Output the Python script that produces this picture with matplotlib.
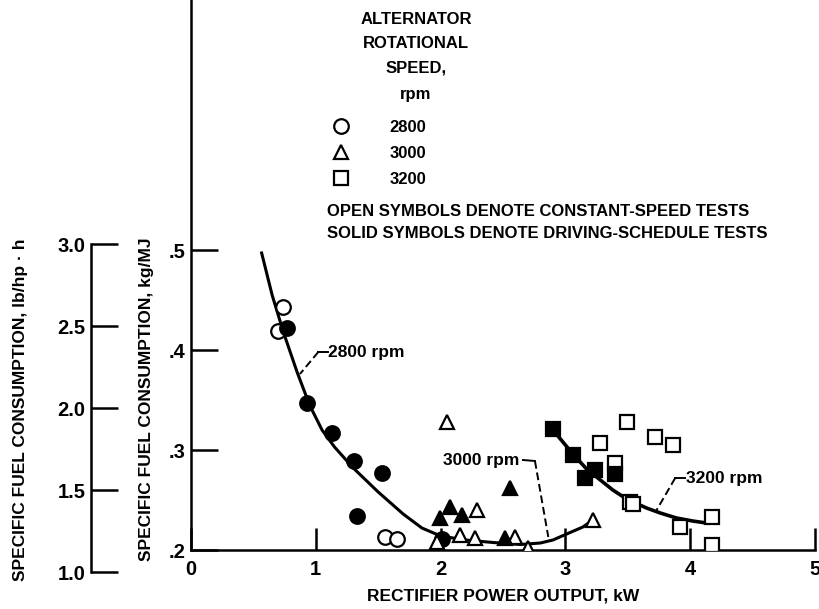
import matplotlib.pyplot as plt
from matplotlib.lines import Line2D

plt.rcParams['font.family'] = ['Liberation Sans', 'DejaVu Sans']
plt.rcParams['font.weight'] = 'bold'

W, H = 820, 609

# rectifier power output (kW) vs specific fuel consumption (kg/MJ)
open_2800_x = [0.737, 0.695, 1.554, 1.648]
open_2800_y = [0.443, 0.419, 0.213, 0.211]
solid_2800_x = [0.767, 0.932, 1.127, 1.309, 1.528, 1.333, 2.010]
solid_2800_y = [0.422, 0.347, 0.317, 0.289, 0.277, 0.234, 0.211]

open_3000_x = [2.049, 2.289, 2.155, 2.276, 2.596, 2.703, 1.969, 3.224]
open_3000_y = [0.328, 0.240, 0.215, 0.212, 0.213, 0.202, 0.208, 0.230]
solid_3000_x = [2.075, 2.169, 1.995, 2.556, 2.516]
solid_3000_y = [0.243, 0.235, 0.232, 0.262, 0.212]

open_3200_x = [3.277, 3.491, 3.718, 3.865, 3.400, 3.520, 3.540, 3.918, 4.172, 4.172]
open_3200_y = [0.307, 0.328, 0.313, 0.305, 0.287, 0.248, 0.246, 0.223, 0.233, 0.205]
solid_3200_x = [2.898, 3.063, 3.157, 3.237, 3.400]
solid_3200_y = [0.321, 0.295, 0.272, 0.280, 0.276]

# faired curves
curve_2800_x = [0.566, 0.65, 0.74, 0.85, 0.95, 1.05, 1.15, 1.30, 1.50, 1.70, 1.85, 2.00]
curve_2800_y = [0.497, 0.455, 0.418, 0.378, 0.345, 0.320, 0.303, 0.282, 0.258, 0.236, 0.222, 0.214]
curve_3000_x = [2.00, 2.20, 2.42, 2.64, 2.80, 2.90, 3.01, 3.14, 3.22]
curve_3000_y = [0.214, 0.210, 0.2075, 0.2055, 0.207, 0.210, 0.216, 0.223, 0.230]
curve_3200_x = [2.86, 2.96, 3.06, 3.17, 3.28, 3.38, 3.49, 3.65, 3.76, 3.89, 4.02, 4.13]
curve_3200_y = [0.326, 0.311, 0.296, 0.281, 0.270, 0.260, 0.251, 0.242, 0.237, 0.232, 0.229, 0.227]

# curve labels: text anchor, solid stub, dashed leader end
labels = ['2800 rpm', '3000 rpm', '3200 rpm']
label_xy = [(1.10, 0.398), (2.02, 0.290), (3.97, 0.271)]
stub_x = [(1.098, 1.02), (2.66, 2.756), (3.958, 3.88)]
stub_y = [(0.398, 0.398), (0.290, 0.289), (0.272, 0.272)]
lead_x = [(1.02, 0.873), (2.756, 2.863), (3.88, 3.731)]
lead_y = [(0.398, 0.376), (0.289, 0.213), (0.272, 0.240)]

speeds = ['2800', '3000', '3200']
markers = ['o', '^', 's']

FS = 12

fig = plt.figure(figsize=(W / 100, H / 100), dpi=100)

def fx(px):
    return px / W

def fy(py):
    return 1 - py / H

ax = fig.add_axes([fx(191), fy(550), (815 - 191) / W, 550 / H])
ax.set_xlim(0, 5)
ax.set_ylim(0.2, 0.75)
for s in ['top', 'right']:
    ax.spines[s].set_visible(False)
for s in ['left', 'bottom']:
    ax.spines[s].set_linewidth(1.8)
ax.set_xticks([0, 1, 2, 3, 4, 5])
ax.set_xticklabels(['0', '1', '2', '3', '4', '5'])
ax.set_yticks([0.2, 0.3, 0.4, 0.5])
ax.set_yticklabels(['.2', '.3', '.4', '.5'])
ax.tick_params(axis='x', direction='in', length=15.8, width=1.8, pad=7, labelsize=14.5)
ax.tick_params(axis='y', direction='in', length=19.4, width=1.8, pad=4, labelsize=14.5)

lw = 2.2
ax.plot(curve_2800_x, curve_2800_y, color='black', lw=lw, zorder=2)
ax.plot(curve_3000_x, curve_3000_y, color='black', lw=lw, zorder=2)
ax.plot(curve_3200_x, curve_3200_y, color='black', lw=lw + 0.4, zorder=2)

for (tx, ty), lab, sx, sy, lx, ly in zip(label_xy, labels, stub_x, stub_y, lead_x, lead_y):
    ax.text(tx, ty, lab, fontsize=12.5, ha='left', va='center')
    ax.plot(sx, sy, color='black', lw=1.4, zorder=2)
    ax.plot(lx, ly, color='black', lw=1.4, ls=(0, (4, 2)), zorder=2)

ms = 10.5
mew = 1.6
opts = dict(ls='none', ms=ms, mew=mew, mec='black', zorder=3)
ax.plot(open_2800_x, open_2800_y, marker='o', mfc='white', **opts)
ax.plot(solid_2800_x, solid_2800_y, marker='o', mfc='black', **opts)
ax.plot(open_3000_x, open_3000_y, marker='^', mfc='white', **opts)
ax.plot(solid_3000_x, solid_3000_y, marker='^', mfc='black', **opts)
ax.plot(open_3200_x, open_3200_y, marker='s', mfc='white', **opts)
ax.plot(solid_3200_x, solid_3200_y, marker='s', mfc='black', **opts)

# second scale in lb/hp-h
ax2 = fig.add_axes([fx(91), fy(572), 0.01, (572 - 244) / H])
ax2.set_ylim(1.0, 3.0)
ax2.patch.set_visible(False)
for s in ['top', 'right', 'bottom']:
    ax2.spines[s].set_visible(False)
ax2.spines['left'].set_linewidth(1.8)
ax2.set_xticks([])
ax2.set_yticks([1.0, 1.5, 2.0, 2.5, 3.0])
ax2.set_yticklabels(['1.0', '1.5', '2.0', '2.5', '3.0'])
ax2.tick_params(axis='y', direction='in', length=19.4, width=1.8, pad=4, labelsize=14.5)

fig.text(fx(503), fy(596), 'RECTIFIER POWER OUTPUT, kW', fontsize=12.5, ha='center', va='center')
fig.text(fx(147), fy(399), 'SPECIFIC FUEL CONSUMPTION, kg/MJ', fontsize=12.5,
         rotation=90, ha='center', va='center')
fig.text(fx(21), fy(410), 'SPECIFIC FUEL CONSUMPTION, lb/hp \u00b7 h', fontsize=12.5,
         rotation=90, ha='center', va='center')

# key
title_lines = ['ALTERNATOR', 'ROTATIONAL', 'SPEED,', 'rpm']
title_y = [20, 44, 68, 94]
for t, y in zip(title_lines, title_y):
    fig.text(fx(416), fy(y), t, fontsize=FS, ha='center', va='center')

handles = [Line2D([], [], ls='none', marker=m, ms=ms, mew=mew, mec='black', mfc='white')
           for m in markers]
fig.legend(handles, speeds, loc='upper left', bbox_to_anchor=(fx(333), fy(120)),
           bbox_transform=fig.transFigure, frameon=False, fontsize=FS,
           handlelength=1.0, handletextpad=2.4, labelspacing=0.66,
           borderpad=0, borderaxespad=0)

notes = ['OPEN SYMBOLS DENOTE CONSTANT-SPEED TESTS', 'SOLID SYMBOLS DENOTE DRIVING-SCHEDULE TESTS']
notes_y = [211, 233]
for t, y in zip(notes, notes_y):
    fig.text(fx(327), fy(y), t, fontsize=12, ha='left', va='center')

fig.savefig('out.png', dpi=100)
